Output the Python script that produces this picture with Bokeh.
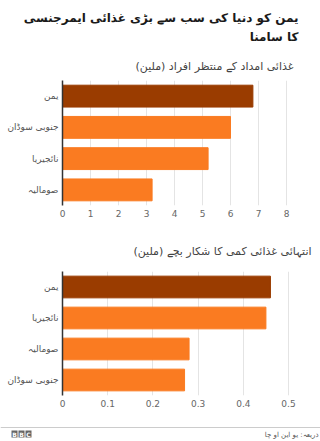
from bokeh.plotting import figure
from bokeh.layouts import column
from bokeh.models import Range1d, FactorRange, ColumnDataSource, FixedTicker
from bokeh.core.properties import value
from bokeh.embed import file_html
from bokeh.resources import INLINE

# ---- data ----
title_lines = ["یمن کو دنیا کی سب سے بڑی غذائی ایمرجنسی", "کا سامنا"]
subtitle1 = "غذائی امداد کے منتظر افراد (ملین)"
subtitle2 = "انتہائی غذائی کمی کا شکار بچے (ملین)"
source_text = "ذریعہ: یو این او چا"

categories1 = ["یمن", "جنوبی سوڈان", "نائجیریا", "صومالیہ"]
values1 = [6.8, 6.0, 5.2, 3.2]
ticks1 = [0, 1, 2, 3, 4, 5, 6, 7, 8]

categories2 = ["یمن", "نائجیریا", "صومالیہ", "جنوبی سوڈان"]
values2 = [0.46, 0.45, 0.28, 0.27]
ticks2 = [0, 0.1, 0.2, 0.3, 0.4, 0.5]

DARK = "#9a3c00"
ORANGE = "#fa7b21"
FONT = "DejaVu Sans"
W = 320


def blank(h):
    f = figure(width=W, height=h, x_range=Range1d(0, W), y_range=Range1d(h, 0),
               x_axis_type=None, y_axis_type=None, output_backend="svg",
               toolbar_location=None, min_border=0, outline_line_color=None,
               frame_align=False)
    f.grid.visible = False
    return f


def bar_chart(cats, vals, ticks, xmax, h, top, bottom):
    colors = [DARK] + [ORANGE] * (len(cats) - 1)
    src = ColumnDataSource(dict(cat=cats, val=vals, color=colors))
    f = figure(width=W, height=h, y_range=FactorRange(*reversed(cats), range_padding=0),
               x_range=Range1d(0, xmax), output_backend="svg", toolbar_location=None,
               min_border_left=62, min_border_right=20, min_border_top=top,
               min_border_bottom=bottom, outline_line_color=None, frame_align=False)
    f.hbar(y="cat", right="val", left=0, height=0.7, color="color", source=src)
    f.ygrid.visible = False
    f.xgrid.grid_line_color = "#e4e4e4"
    f.xaxis.ticker = FixedTicker(ticks=ticks)
    f.xaxis.axis_line_color = None
    f.xaxis.major_tick_line_color = None
    f.xaxis.minor_tick_line_color = None
    f.xaxis.major_tick_out = 0
    f.xaxis.minor_tick_out = 0
    f.xaxis.major_label_text_font_size = "9px"
    f.xaxis.major_label_text_color = "#666666"
    f.xaxis.major_label_text_font = FONT
    f.xaxis.major_label_standoff = 4
    f.yaxis.axis_line_color = "#333333"
    f.yaxis.axis_line_width = 1.5
    f.yaxis.major_tick_line_color = None
    f.yaxis.minor_tick_line_color = None
    f.yaxis.major_tick_out = 0
    f.yaxis.minor_tick_out = 0
    f.yaxis.major_label_text_font_size = "9px"
    f.yaxis.major_label_text_color = "#555555"
    f.yaxis.major_label_text_font = FONT
    f.yaxis.major_label_standoff = 4
    return f


# header
head = blank(75)
head.text(x=[298, 298], y=[17, 36], text=title_lines, text_align="right",
          text_baseline="middle", text_font=value(FONT), text_font_style="bold",
          text_font_size="12px", text_color="#1a1a1a")
head.text(x=[293], y=[66], text=[subtitle1], text_align="right", text_baseline="middle",
          text_font=value(FONT), text_font_size="11px", text_color="#444444")

p1 = bar_chart(categories1, values1, ticks1, 8.5, 150, 5, 20)

mid = blank(40)
mid.text(x=[311], y=[26], text=[subtitle2], text_align="right", text_baseline="middle",
         text_font=value(FONT), text_font_size="11px", text_color="#444444")

p2 = bar_chart(categories2, values2, ticks2, 0.5265, 155, 6, 25)

foot = blank(21)
foot.segment(x0=[0], y0=[7], x1=[W], y1=[7], line_color="#cccccc", line_width=1)
foot.rect(x=[14, 21, 28], y=[13.5, 13.5, 13.5], width=6, height=7, fill_color="#666666",
          line_color=None)
foot.text(x=[14, 21, 28], y=[13.5, 13.5, 13.5], text=["B", "B", "C"], text_align="center",
          text_baseline="middle", text_font=value(FONT), text_font_style="bold",
          text_font_size="6px", text_color="white")
foot.text(x=[318], y=[14], text=[source_text], text_align="right", text_baseline="middle",
          text_font=value(FONT), text_font_size="7px", text_color="#555555")

layout = column(head, p1, mid, p2, foot, spacing=0)
open("out.html", "w").write(file_html(layout, INLINE))
